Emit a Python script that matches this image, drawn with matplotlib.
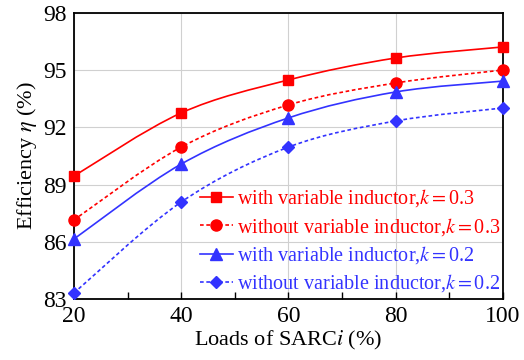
import numpy as np
import matplotlib
matplotlib.use('Agg')
import matplotlib.pyplot as plt
from matplotlib.path import Path
from matplotlib.patches import PathPatch

plt.rcParams['font.family'] = ['Liberation Serif', 'DejaVu Serif']
plt.rcParams['mathtext.fontset'] = 'stix'

loads = [20, 40, 60, 80, 100]
with_k03 = [89.45, 92.76, 94.49, 95.64, 96.22]
without_k03 = [87.15, 90.97, 93.18, 94.33, 95.01]
with_k02 = [86.15, 90.08, 92.5, 93.86, 94.43]
without_k02 = [83.32, 88.09, 90.97, 92.34, 93.02]

labels = ['with variable inductor,$k=$0.3', 'without variable inductor,$k=$0.3',
          'with variable inductor,$k=$0.2', 'without variable inductor,$k=$0.2']
red = '#ff0000'
blue = '#3333ff'
dots = (0, (2.2, 1.6))


def smooth_path(x, y):
    # catmull-rom -> bezier, drawn straight from the data points
    x = np.asarray(x, float)
    y = np.asarray(y, float)
    verts = [(x[0], y[0])]
    codes = [Path.MOVETO]
    n = len(x)
    for i in range(n - 1):
        p0 = (x[max(i - 1, 0)], y[max(i - 1, 0)])
        p1 = (x[i], y[i])
        p2 = (x[i + 1], y[i + 1])
        p3 = (x[min(i + 2, n - 1)], y[min(i + 2, n - 1)])
        c1 = (p1[0] + (p2[0] - p0[0]) / 6, p1[1] + (p2[1] - p0[1]) / 6)
        c2 = (p2[0] - (p3[0] - p1[0]) / 6, p2[1] - (p3[1] - p1[1]) / 6)
        verts += [c1, c2, p2]
        codes += [Path.CURVE4] * 3
    return Path(verts, codes)


fig = plt.figure(figsize=(5.24, 3.6), dpi=100)
ax = fig.add_axes([0.141, 0.169, 0.819, 0.795])

series = [
    (with_k03, red, '-', 's', 7),
    (without_k03, red, dots, 'o', 8),
    (with_k02, blue, '-', '^', 8),
    (without_k02, blue, dots, 'D', 6.5),
]

handles = []
for (vals, c, ls, mk, ms), lab in zip(series, labels):
    ax.add_patch(PathPatch(smooth_path(loads, vals), fill=False, edgecolor=c,
                           linestyle=ls, linewidth=1.2, zorder=3,
                           clip_on=False))
    ax.plot(loads, vals, linestyle='none', marker=mk, markersize=ms,
            color=c, zorder=4, clip_on=False)
    handles.append(ax.plot([], [], linestyle=ls, linewidth=1.2, marker=mk,
                           markersize=ms, color=c)[0])

ax.set_xlim(20, 100)
ax.set_ylim(83, 98)
ax.set_xticks([20, 40, 60, 80, 100])
ax.set_xticks([30, 50, 70, 90], minor=True)
ax.set_yticks([83, 86, 89, 92, 95, 98])
ax.grid(True, color='#d0d0d0', linewidth=0.8)
ax.tick_params(axis='x', which='both', direction='in', length=5, width=1,
               labelsize=17, pad=5)
ax.tick_params(axis='y', length=0, labelsize=17, pad=5)
for s in ax.spines.values():
    s.set_linewidth(1.3)

ax.set_xlabel('Loads of SARC$i$ (%)', fontsize=16, labelpad=1)
ax.set_ylabel('Efficiency $\\eta$ (%)', fontsize=16, labelpad=3)

leg = ax.legend(handles, labels, loc='lower right', frameon=False,
                fontsize=14.5, handlelength=1.6, handletextpad=0.2,
                labelspacing=0.32, borderaxespad=0.05,
                bbox_to_anchor=(1.014, -0.015))
for t, (vals, c, ls, mk, ms) in zip(leg.get_texts(), series):
    t.set_color(c)

fig.savefig('out.png', dpi=100)
